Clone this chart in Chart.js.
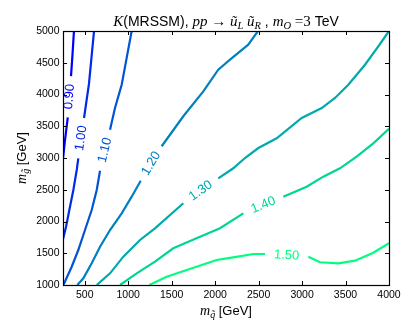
<!DOCTYPE html>
<html><head><meta charset="utf-8">
<script src="https://cdn.jsdelivr.net/npm/chart.js@4/dist/chart.umd.min.js"></script>
<style>html,body{margin:0;padding:0;background:#fff;}</style>
</head><body>
<canvas id="c" width="415" height="336"></canvas>
<script>
const levels = ["0.90","1.00","1.10","1.20","1.30","1.40","1.50"];
const xTicks = [500,1000,1500,2000,2500,3000,3500,4000];
const yTicks = [1000,1500,2000,2500,3000,3500,4000,4500,5000];

const c090x = [376, 359, 342, null, 305, 273, 250];
const c090y = [5000, 4622, 4290, null, 3640, 3283, 2990];
const c100x = [607, 549, 492, null, 426, 408, 369, 323, 285, 250];
const c100y = [5000, 4170, 3630, null, 2995, 2811, 2496, 2181, 1918, 1720];
const c110x = [1040, 983, 925, 848, 791, null, 676, 638, 580, 503, 426, 350, 255];
const c110y = [5000, 4580, 4154, 3787, 3446, null, 2800, 2496, 2181, 1866, 1551, 1288, 1000];
const c120x = [2493, 2381, 2171, 2036, 1864, 1634, 1385, null, 1144, 1040, 925, 791, 676, 580, 484, 415];
const c120y = [5000, 4784, 4548, 4391, 4050, 3657, 3185, null, 2643, 2391, 2129, 1866, 1603, 1342, 1106, 1000];
const c130x = [4000, 3877, 3724, 3532, 3379, 3226, 2996, 2708, 2497, 2343, 2209, 2036, null, 1634, 1308, 1136, 944, 791, 638];
const c130y = [5000, 4759, 4469, 4154, 3945, 3787, 3630, 3310, 3157, 3000, 2838, 2680, null, 2287, 1893, 1709, 1446, 1184, 1000];
const c140x = [4000, 3819, 3628, 3436, 3244, 3053, 2784, null, 2324, 2056, 1826, 1519, 1308, 1098, 906];
const c140y = [3460, 3231, 3020, 2838, 2706, 2548, 2391, null, 2129, 1893, 1761, 1578, 1367, 1184, 1000];
const c150x = [4000, 3819, 3609, 3417, 3206, 3072, null, 2573, 2439, 2209, 2018, 1673, 1443, 1243];
const c150y = [1660, 1509, 1383, 1342, 1358, 1446, null, 1488, 1488, 1436, 1394, 1236, 1131, 1000];

const contours = [[c090x,c090y],[c100x,c100y],[c110x,c110y],[c120x,c120y],[c130x,c130y],[c140x,c140y],[c150x,c150y]];
const colors = ['#0000ff','#002aea','#0055d4','#0080bf','#00aaaa','#00d595','#00ff80'];

const SERIF = '"Liberation Serif", "DejaVu Serif", serif';
const SANS = '"Liberation Sans", Arial, sans-serif';

function drawRich(ctx, parts, cx, cy) {
  let total = 0;
  parts.forEach(p => { ctx.font = p.f; p.w = ctx.measureText(p.t).width; total += p.w; });
  let x = cx - total / 2;
  ctx.textAlign = 'left';
  ctx.textBaseline = 'alphabetic';
  parts.forEach(p => { ctx.font = p.f; ctx.fillText(p.t, x, cy + (p.dy || 0)); x += p.w; });
}

const datasets = contours.map((c, i) => ({
  label: levels[i],
  data: c[0].map((x, j) => ({x: x, y: c[1][j]})),
  borderColor: colors[i],
  borderWidth: 2.2,
  pointRadius: 0,
  tension: 0,
  spanGaps: false,
  fill: false,
  clip: 0
}));

const decor = {
  id: 'decor',
  afterDatasetsDraw(chart) {
    const ctx = chart.ctx, xs = chart.scales.x, ys = chart.scales.y, a = chart.chartArea;
    chart.data.datasets.forEach((ds, i) => {
      const k = ds.data.findIndex(p => p.y === null);
      if (k < 1) return;
      const p = ds.data[k - 1], q = ds.data[k + 1];
      const ax = xs.getPixelForValue(p.x), ay = ys.getPixelForValue(p.y);
      const bx = xs.getPixelForValue(q.x), by = ys.getPixelForValue(q.y);
      let ang = Math.atan2(by - ay, bx - ax);
      if (ang > Math.PI / 2) ang -= Math.PI;
      if (ang < -Math.PI / 2) ang += Math.PI;
      ctx.save();
      ctx.translate((ax + bx) / 2, (ay + by) / 2);
      ctx.rotate(ang);
      ctx.fillStyle = ds.borderColor;
      ctx.font = '13px ' + SANS;
      ctx.textAlign = 'center';
      ctx.textBaseline = 'middle';
      ctx.fillText(levels[i], 0, 0);
      ctx.restore();
    });
    ctx.save();
    ctx.strokeStyle = '#000';
    ctx.lineWidth = 1;
    ctx.beginPath();
    xTicks.forEach(v => {
      const px = Math.round(xs.getPixelForValue(v)) + 0.5;
      ctx.moveTo(px, a.bottom); ctx.lineTo(px, a.bottom - 4);
      ctx.moveTo(px, a.top); ctx.lineTo(px, a.top + 4);
    });
    yTicks.forEach(v => {
      const py = Math.round(ys.getPixelForValue(v)) + 0.5;
      ctx.moveTo(a.left, py); ctx.lineTo(a.left + 4, py);
      ctx.moveTo(a.right, py); ctx.lineTo(a.right - 4, py);
    });
    ctx.stroke();
    ctx.lineWidth = 1.2;
    ctx.strokeRect(Math.round(a.left) + 0.5, Math.round(a.top) + 0.5, Math.round(a.right - a.left), Math.round(a.bottom - a.top));
    ctx.restore();
  },
  afterDraw(chart) {
    const ctx = chart.ctx;
    ctx.save();
    ctx.fillStyle = '#000';
    const mi = 'italic 15px ' + SERIF, ms = 'italic 10.5px ' + SERIF, rm = '15px ' + SERIF, sa = '14px ' + SANS;
    drawRich(ctx, [
      {t: 'K', f: mi}, {t: '(MRSSM), ', f: sa}, {t: 'pp', f: mi}, {t: ' \u2192 ', f: rm},
      {t: '\u0169', f: mi}, {t: 'L', f: ms, dy: 3}, {t: ' ', f: rm},
      {t: '\u0169', f: mi}, {t: 'R', f: ms, dy: 3}, {t: ' , ', f: sa},
      {t: 'm', f: mi}, {t: 'O', f: ms, dy: 3}, {t: ' =3', f: rm}, {t: ' TeV', f: sa}
    ], 226, 26);
    const lm = 'italic 14px ' + SERIF, ls = 'italic 10px ' + SERIF, lg = '13px ' + SANS;
    drawRich(ctx, [{t: 'm', f: lm}, {t: 'q\u0303', f: ls, dy: 3}, {t: ' [GeV]', f: lg}], 226, 315);
    ctx.translate(26, 158);
    ctx.rotate(-Math.PI / 2);
    drawRich(ctx, [{t: 'm', f: lm}, {t: 'g\u0303', f: ls, dy: 3}, {t: ' [GeV]', f: lg}], 0, 0);
    ctx.restore();
  }
};

new Chart(document.getElementById('c'), {
  type: 'line',
  data: {datasets: datasets},
  options: {
    responsive: false,
    animation: false,
    devicePixelRatio: 1,
    layout: {padding: {left: 0, top: 31, right: 26, bottom: 0}},
    plugins: {legend: {display: false}, title: {display: false}, tooltip: {enabled: false}},
    scales: {
      x: {
        type: 'linear', min: 250, max: 4000,
        grid: {display: false, drawTicks: false, tickLength: 0}, border: {display: false},
        afterBuildTicks: s => { s.ticks = xTicks.map(v => ({value: v})); },
        afterFit: s => { s.height = 51; },
        ticks: {color: '#000', font: {family: SANS, size: 10.5}, padding: 4, maxRotation: 0, autoSkip: false,
                callback: v => String(v)}
      },
      y: {
        type: 'linear', min: 1000, max: 5000,
        grid: {display: false, drawTicks: false, tickLength: 0}, border: {display: false},
        afterBuildTicks: s => { s.ticks = yTicks.map(v => ({value: v})); },
        afterFit: s => { s.width = 63; },
        ticks: {color: '#000', font: {family: SANS, size: 10.5}, padding: 3.5, autoSkip: false,
                callback: v => String(v)}
      }
    }
  },
  plugins: [decor]
});
</script>
</body></html>
